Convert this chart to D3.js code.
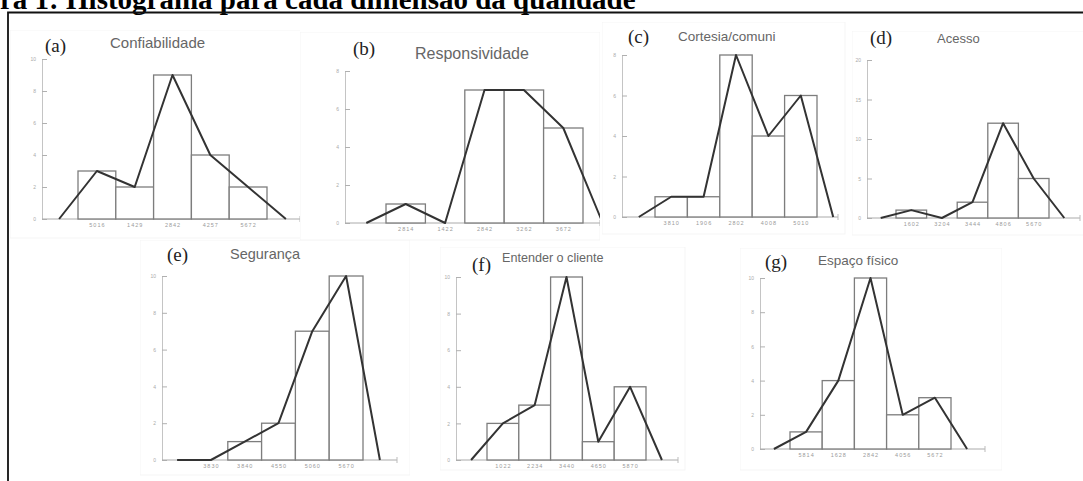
<!DOCTYPE html>
<html lang="pt">
<head>
  <meta charset="UTF-8">
  <title>Histograma para cada dimensão da qualidade</title>
  <script src="https://d3js.org/d3.v7.min.js"></script>
  <style>
    body { margin: 0; background: #fff; }
    svg { display: block; }
    .fig-title { font-family: "Liberation Serif", "Times New Roman", serif; font-weight: bold; fill: #000; }
    .key { font-family: "Liberation Serif", "Times New Roman", serif; fill: #222; }
    .ptitle { font-family: "Liberation Sans", Arial, sans-serif; fill: #666; }
    .tick text { font-family: "Liberation Sans", Arial, sans-serif; fill: #9a9a9a; }
  </style>
</head>
<body>
  <div id="chart"></div>
  <script>
    // panel keys and titles
    const panelKeys = ['(a)', '(b)', '(c)', '(d)', '(e)', '(f)', '(g)'];
    const panelTitles = ['Confiabilidade', 'Responsividade', 'Cortesia/comuni', 'Acesso',
                         'Segurança', 'Entender o cliente', 'Espaço físico'];

    // frequencies per bin
    const freqA = [3, 2, 9, 4, 2];
    const freqB = [1, 0, 7, 7, 5];
    const freqC = [1, 1, 8, 4, 6];
    const freqD = [1, 0, 2, 12, 5];
    const freqE = [0, 1, 2, 7, 10];
    const freqF = [2, 3, 10, 1, 4];
    const freqG = [1, 4, 10, 2, 3];

    // y tick values
    const yTicksA = [0, 2, 4, 6, 8, 10];
    const yTicksB = [0, 2, 4, 6, 8];
    const yTicksC = [0, 2, 4, 6, 8];
    const yTicksD = [0, 5, 10, 15, 20];
    const yTicksE = [0, 2, 4, 6, 8, 10];
    const yTicksF = [0, 2, 4, 6, 8, 10];
    const yTicksG = [0, 2, 4, 6, 8, 10];

    // bin labels (very small in the source, best guess)
    const binsA = ['5016', '1429', '2842', '4257', '5672'];
    const binsB = ['2814', '1422', '2842', '3262', '3672'];
    const binsC = ['3810', '1906', '2802', '4008', '5010'];
    const binsD = ['1602', '3204', '3444', '4806', '5670'];
    const binsE = ['3830', '3840', '4550', '5060', '5670'];
    const binsF = ['1022', '2234', '3440', '4650', '5870'];
    const binsG = ['5814', '1628', '2842', '4056', '5672'];

    const freqs = [freqA, freqB, freqC, freqD, freqE, freqF, freqG];
    const yTicks = [yTicksA, yTicksB, yTicksC, yTicksD, yTicksE, yTicksF, yTicksG];
    const binLabels = [binsA, binsB, binsC, binsD, binsE, binsF, binsG];

    // layout of each pasted panel (pixels)
    const layout = [
      { ax: 42,  x0: 78,  bw: 37.8, base: 219, top: 59, right: 300, kx: 45,  ky: 52,  tx: 110, ty: 48,  ts: 15,   frame: [10, 30, 292, 208], clipR: 300 },
      { ax: 345, x0: 386, bw: 39.4, base: 223, top: 71, right: 600, kx: 353, ky: 55,  tx: 415, ty: 59,  ts: 16,   frame: [300, 32, 300, 208], clipR: 600 },
      { ax: 622, x0: 655, bw: 32.4, base: 217, top: 55, right: 838, kx: 628, ky: 43,  tx: 678, ty: 41,  ts: 13.5, frame: [602, 22, 243, 212], clipR: 850 },
      { ax: 867, x0: 896, bw: 30.6, base: 218, top: 60, right: 1080, kx: 870, ky: 44, tx: 937, ty: 43,  ts: 13,   frame: [852, 31, 240, 204], clipR: 1083 },
      { ax: 162, x0: 194, bw: 33.8, base: 460, top: 276, right: 397, kx: 167, ky: 261, tx: 230, ty: 259, ts: 14.5, frame: [140, 240, 270, 235], clipR: 410 },
      { ax: 456, x0: 487, bw: 31.8, base: 460, top: 277, right: 678, kx: 472, ky: 271, tx: 502, ty: 262, ts: 12.6, frame: [440, 247, 245, 223], clipR: 690 },
      { ax: 760, x0: 790, bw: 32.2, base: 449, top: 278, right: 985, kx: 765, ky: 268, tx: 818, ty: 265, ts: 13.5, frame: [740, 248, 262, 222], clipR: 1002 }
    ];

    const W = 1083, H = 481;
    const svg = d3.select('#chart').append('svg').attr('width', W).attr('height', H);

    // figure caption, cut at the top like the source
    svg.append('text').attr('class', 'fig-title')
      .attr('x', 0).attr('y', 9)
      .style('font-size', '29px')
      .text('ra 1: Histograma para cada dimensão da qualidade');

    // outer box (top and left edges visible)
    svg.append('path')
      .attr('d', `M8,${H} V12.5 H${W}`)
      .attr('fill', 'none').attr('stroke', '#111').attr('stroke-width', 1.8);

    const defs = svg.append('defs');

    panelKeys.forEach((key, p) => {
      const L = layout[p];
      const data = freqs[p];
      const n = data.length;
      const ticks = yTicks[p];

      defs.append('clipPath').attr('id', 'clip' + p)
        .append('rect').attr('x', L.frame[0]).attr('y', L.frame[1])
        .attr('width', L.clipR - L.frame[0]).attr('height', H - L.frame[1]);

      const g = svg.append('g').attr('clip-path', `url(#clip${p})`);

      // faint frame of the pasted image
      g.append('rect')
        .attr('x', L.frame[0]).attr('y', L.frame[1])
        .attr('width', L.frame[2]).attr('height', L.frame[3])
        .attr('fill', 'none').attr('stroke', '#f5f5f5').attr('stroke-width', 1);

      const x = d3.scaleLinear().domain([0, n]).range([L.x0, L.x0 + n * L.bw]);
      const y = d3.scaleLinear().domain([0, d3.max(ticks)]).range([L.base, L.top]);

      // y axis
      const yAxis = g.append('g').attr('transform', `translate(${L.ax},0)`)
        .call(d3.axisLeft(y).tickValues(ticks).tickSize(-5).tickPadding(6));
      yAxis.select('.domain').attr('stroke', '#c4c4c4');
      yAxis.selectAll('.tick line').attr('stroke', '#b0b0b0');
      yAxis.selectAll('.tick text').style('font-size', '5px').style('fill', '#aaa');

      // x axis line
      g.append('line')
        .attr('x1', L.ax).attr('x2', L.right)
        .attr('y1', L.base).attr('y2', L.base)
        .attr('stroke', '#aaa').attr('stroke-width', 1);
      g.append('line')
        .attr('x1', L.right).attr('x2', L.right)
        .attr('y1', L.base - 3).attr('y2', L.base + 3)
        .attr('stroke', '#bbb');

      // bin labels
      const xAxis = g.append('g').attr('transform', `translate(0,${L.base})`)
        .call(d3.axisBottom(x)
          .tickValues(d3.range(n).map(i => i + 0.5))
          .tickFormat(d => binLabels[p][Math.floor(d)])
          .tickSize(0).tickPadding(4));
      xAxis.select('.domain').remove();
      xAxis.selectAll('.tick text').style('font-size', '5.5px').style('letter-spacing', '1px');

      // bars
      g.selectAll('rect.bar')
        .data(data)
        .join('rect')
        .attr('class', 'bar')
        .attr('x', (d, i) => x(i))
        .attr('y', d => y(d))
        .attr('width', L.bw)
        .attr('height', d => L.base - y(d))
        .attr('fill', '#fff')
        .attr('stroke', '#7d7d7d')
        .attr('stroke-width', 1.3);

      // frequency polygon through bin centres, closed at neighbour bins
      const poly = [[-0.5, 0]].concat(data.map((d, i) => [i + 0.5, d]), [[n + 0.5, 0]]);
      g.append('path')
        .datum(poly)
        .attr('d', d3.line().x(d => x(d[0])).y(d => y(d[1])))
        .attr('fill', 'none')
        .attr('stroke', '#333')
        .attr('stroke-width', 2)
        .attr('stroke-linejoin', 'round');

      // key and title
      g.append('text').attr('class', 'key')
        .attr('x', L.kx).attr('y', L.ky)
        .style('font-size', '19px')
        .text(key);
      g.append('text').attr('class', 'ptitle')
        .attr('x', L.tx).attr('y', L.ty)
        .style('font-size', L.ts + 'px')
        .text(panelTitles[p]);
    });
  </script>
</body>
</html>
